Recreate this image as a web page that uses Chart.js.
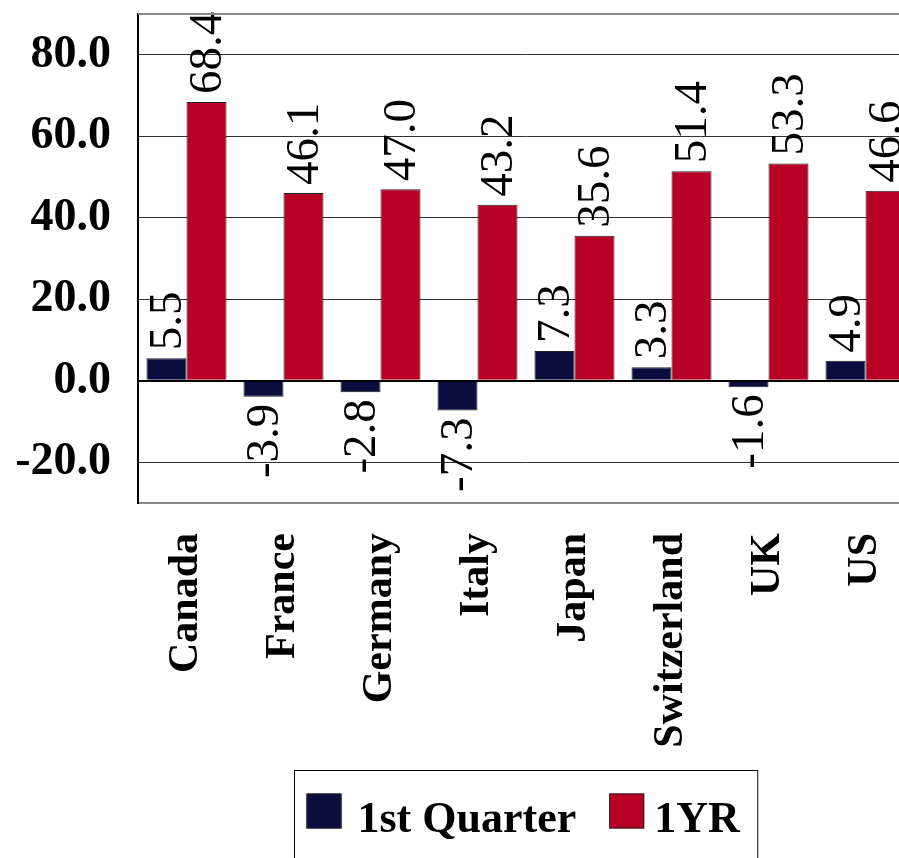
<!DOCTYPE html>
<html>
<head>
<meta charset="utf-8">
<script src="https://cdn.jsdelivr.net/npm/chart.js@4.4.0/dist/chart.umd.min.js"></script>
<style>
    html, body { margin: 0; padding: 0; background: #fff; overflow: hidden; }
    #wrap { width: 916px; height: 858px; position: relative; }
</style>
</head>
<body>
<div id="wrap"><canvas id="chart"></canvas></div>
<script>
// 圖表資料
const countries = ['Canada', 'France', 'Germany', 'Italy', 'Japan', 'Switzerland', 'UK', 'US'];
const firstQuarter = [5.5, -3.9, -2.8, -7.3, 7.3, 3.3, -1.6, 4.9];
const oneYear = [68.4, 46.1, 47.0, 43.2, 35.6, 51.4, 53.3, 46.6];
const seriesNames = ['1st Quarter', '1YR'];
const yTicks = [-30, -20, 0, 20, 40, 60, 80, 90];

const NAVY = '#0a0d3e';
const RED = '#b90025';
const SERIF = '"Liberation Serif", "DejaVu Serif", serif';

// 柱頂數值標籤（旋轉 90 度）
const valueLabels = {
    id: 'valueLabels',
    afterDatasetsDraw(chart) {
        const ctx = chart.ctx;
        ctx.save();
        ctx.font = '47px ' + SERIF;
        ctx.fillStyle = '#000';
        ctx.textBaseline = 'middle';
        chart.data.datasets.forEach((ds, i) => {
            chart.getDatasetMeta(i).data.forEach((bar, j) => {
                const v = ds.data[j];
                ctx.save();
                if (v >= 0) {
                    ctx.translate(bar.x, bar.y - 8);
                    ctx.textAlign = 'left';
                } else {
                    ctx.translate(bar.x, bar.y + 7);
                    ctx.textAlign = 'right';
                }
                ctx.rotate(-Math.PI / 2);
                ctx.fillText(v.toFixed(1), 0, 2);
                ctx.restore();
            });
        });
        ctx.restore();
    }
};

// 外框與圖例
const frameAndLegend = {
    id: 'frameAndLegend',
    afterDraw(chart) {
        const ctx = chart.ctx;
        const a = chart.chartArea;
        ctx.save();
        // 上方邊線
        ctx.strokeStyle = '#888';
        ctx.lineWidth = 2;
        ctx.beginPath();
        ctx.moveTo(a.left, a.top);
        ctx.lineTo(a.right, a.top);
        ctx.stroke();

        // 圖例
        ctx.font = 'bold 44px ' + SERIF;
        const box = 35, padL = 12, padR = 18, itemGap = 33;
        const gaps = [16, 10];
        const w0 = ctx.measureText(seriesNames[0]).width;
        const w1 = ctx.measureText(seriesNames[1]).width;
        const total = padL + box + gaps[0] + w0 + itemGap + box + gaps[1] + w1 + padR;
        const cx = (a.left + a.right) / 2;
        const left = Math.round(cx - total / 2) + 0.5;
        const top = 770.5;
        ctx.strokeStyle = '#000';
        ctx.lineWidth = 1;
        ctx.strokeRect(left, top, total, 120);

        const midY = 811;
        let x = left + padL;
        [NAVY, RED].forEach((col, i) => {
            ctx.fillStyle = col;
            ctx.fillRect(x, midY - box / 2, box, box);
            ctx.strokeStyle = '#222';
            ctx.strokeRect(x + 0.5, midY - box / 2 + 0.5, box - 1, box - 1);
            x += box + gaps[i];
            ctx.fillStyle = '#000';
            ctx.textBaseline = 'alphabetic';
            ctx.textAlign = 'left';
            ctx.fillText(seriesNames[i], x, 832);
            x += (i === 0 ? w0 : w1) + itemGap;
        });
        ctx.restore();
    }
};

const noPad = axis => {
    axis.paddingTop = 0;
    axis.paddingBottom = 0;
    axis.paddingLeft = 0;
    axis.paddingRight = 0;
};

new Chart(document.getElementById('chart'), {
    type: 'bar',
    data: {
        labels: countries,
        datasets: [{
            label: seriesNames[0],
            data: firstQuarter,
            backgroundColor: NAVY,
            borderColor: '#222',
            borderWidth: 1,
            categoryPercentage: 0.825,
            barPercentage: 1
        }, {
            label: seriesNames[1],
            data: oneYear,
            backgroundColor: RED,
            borderColor: '#222',
            borderWidth: 1,
            categoryPercentage: 0.825,
            barPercentage: 1
        }]
    },
    options: {
        responsive: true,
        maintainAspectRatio: false,
        animation: false,
        layout: { padding: { top: 14, left: 0, right: 2, bottom: 0 } },
        scales: {
            x: {
                afterFit: axis => { axis.height = 355; noPad(axis); },
                grid: { display: false },
                border: { color: '#888', width: 2 },
                ticks: {
                    autoSkip: false,
                    minRotation: 90,
                    maxRotation: 90,
                    padding: 22,
                    color: '#000',
                    font: { family: SERIF, size: 42, weight: 'bold' }
                }
            },
            y: {
                min: -30,
                max: 90,
                afterFit: axis => { axis.width = 138; noPad(axis); },
                afterBuildTicks: axis => { axis.ticks = yTicks.map(v => ({ value: v })); },
                border: { color: '#000', width: 2 },
                grid: {
                    drawTicks: false,
                    color: c => (c.tick && c.tick.value === 0) ? '#000' : (c.tick && (c.tick.value === -30 || c.tick.value === 90) ? 'rgba(0,0,0,0)' : '#333'),
                    lineWidth: c => (c.tick && c.tick.value === 0) ? 2 : 1
                },
                ticks: {
                    padding: 27,
                    color: '#000',
                    font: { family: SERIF, size: 46, weight: 'bold' },
                    callback: v => (v === -30 || v === 90) ? '' : v.toFixed(1)
                }
            }
        },
        plugins: {
            legend: { display: false },
            tooltip: { enabled: false }
        }
    },
    plugins: [valueLabels, frameAndLegend]
});
</script>
</body>
</html>
